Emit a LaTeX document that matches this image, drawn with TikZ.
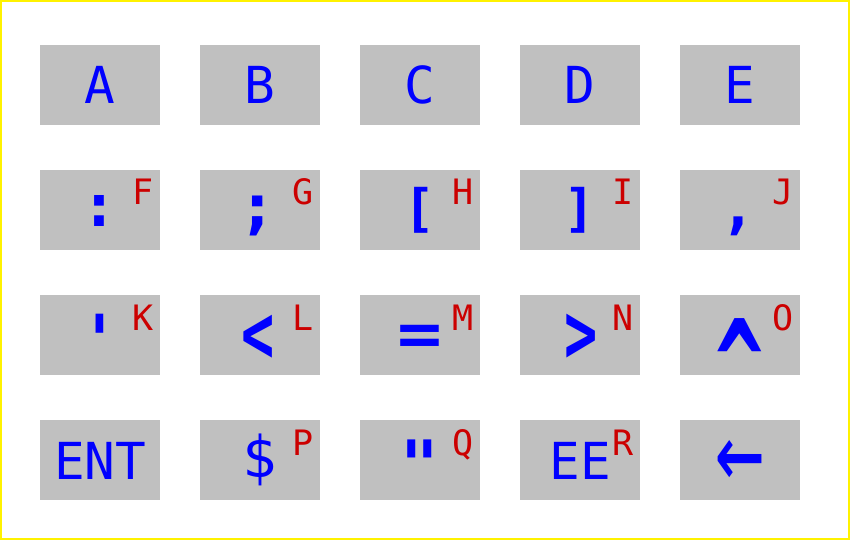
\documentclass[tikz,border=0pt]{standalone}
\usepackage{fontspec}
\usepackage{graphicx}
\setmonofont{DejaVu Sans Mono}
\definecolor{keygray}{RGB}{192,192,192}
\definecolor{keyblue}{RGB}{0,0,255}
\definecolor{keyred}{RGB}{204,0,0}
\tikzset{
  keybox/.style={fill=keygray, draw=none, minimum width=120bp, minimum height=80bp, inner sep=0pt, anchor=north west},
  keymain/.style={text=keyblue, font=\ttfamily\fontsize{51bp}{51bp}\selectfont, anchor=base, inner sep=0pt},
  keysym/.style={text=keyblue, font=\ttfamily\bfseries\fontsize{51bp}{51bp}\selectfont, anchor=center, inner sep=0pt},
  keyhigh/.style={text=keyblue, font=\ttfamily\bfseries\fontsize{#1}{#1}\selectfont, anchor=north, inner sep=0pt},
  keysub/.style={text=keyred, font=\ttfamily\fontsize{35bp}{35bp}\selectfont, anchor=base, inner sep=0pt},
}
\newcommand{\symfit}[3]{\scalebox{#1}[1]{\resizebox*{!}{#2}{#3}}}
\begin{document}
\begin{tikzpicture}[x=1bp,y=-1bp]
\useasboundingbox (0,0) rectangle (850,540);
\draw[yellow, line width=2bp] (1,1) rectangle (849,539);
% key boxes
\foreach \nm/\cx/\ry in {
  a/40/45, b/200/45, c/360/45, d/520/45, e/680/45,
  f/40/170, g/200/170, h/360/170, i/520/170, j/680/170,
  k/40/295, l/200/295, m/360/295, n/520/295, o/680/295,
  p/40/420, q/200/420, r/360/420, s/520/420, t/680/420
}{
  \node[keybox] (box\nm) at (\cx,\ry) {};
}
% red second labels
\foreach \nm/\st in {f/F, g/G, h/H, i/I, j/J, k/K, l/L, m/M, n/N, o/O, q/P, r/Q, s/R}{
  \node[keysub] (sub\nm) at ([xshift=103bp,yshift=-35bp]box\nm.north west) {\st};
}
% letter keys
\foreach \nm/\mt in {a/A, b/B, c/C, d/D, e/E, p/ENT, s/EE}{
  \node[keymain] (main\nm) at ([yshift=-59bp]box\nm.north) {\mt};
}
% symbols that reach the baseline: fitted to their ink height
\node[keysym] (mainf) at (99.5,211.5) {\symfit{1}{31bp}{:}};
\node[keysym] (maing) at (257.5,216) {\symfit{1.05}{40bp}{;}};
\node[keysym] (mainh) at (420,210) {\symfit{1.04}{46bp}{[}};
\node[keysym] (maini) at (580,210) {\symfit{1.04}{46bp}{]}};
\node[keysym] (mainj) at (738.5,226.5) {\symfit{1}{19bp}{,}};
\node[keysym, font=\ttfamily\fontsize{51bp}{51bp}\selectfont] (mainq) at (259.5,460) {\symfit{1}{52bp}{\$}};
% symbols above the baseline: placed by their top
\node[keyhigh=70.4bp] (maink) at (100,314) {\scalebox{0.87}[1]{'}};
\node[keyhigh=82.4bp] (mainl) at (258.5,315) {\scalebox{0.67}[1]{<}};
\node[keyhigh=62.7bp] (mainm) at (420,325) {\scalebox{1.19}[1]{=}};
\node[keyhigh=84.3bp] (mainn) at (581.5,314) {\scalebox{0.655}[1]{>}};
\node[keyhigh=51bp] (maino) at (740,318) {\scalebox{1.579}[2.392]{\textasciicircum}};
\node[keyhigh=66.7bp] (mainr) at (420,440) {\scalebox{0.96}[1]{"}};
\node[keyhigh=51bp, font=\ttfamily\mdseries\fontsize{51bp}{51bp}\selectfont] (maint) at (740.5,440) {\scalebox{1.597}[2.249]{←}};
\end{tikzpicture}
\end{document}
